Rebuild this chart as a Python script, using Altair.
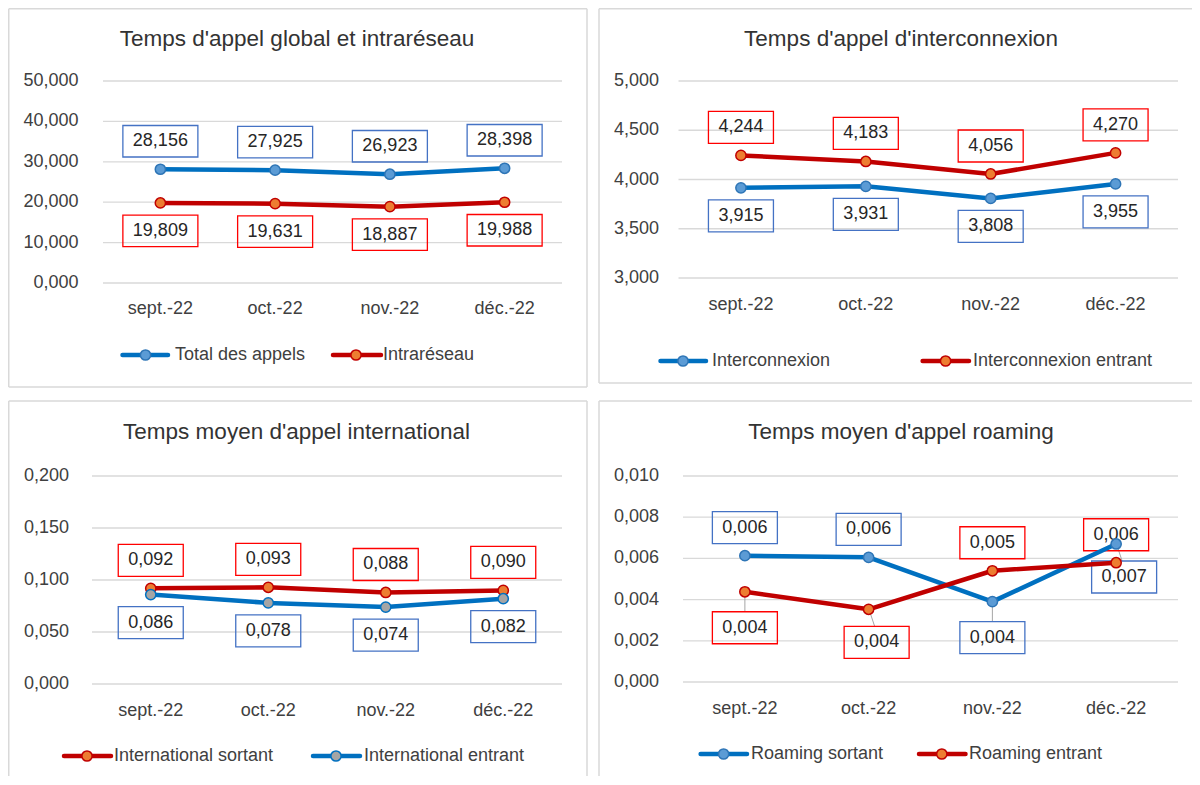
import altair as alt
import pandas as pd

# ---------------- data ----------------
MONTHS = ["sept.-22", "oct.-22", "nov.-22", "déc.-22"]

TITLES = [
    "Temps d'appel global et intraréseau",
    "Temps d'appel d'interconnexion",
    "Temps moyen d'appel international",
    "Temps moyen d'appel roaming",
]

# panel 1
TOTAL_APPELS = [28.156, 27.925, 26.923, 28.398]
INTRARESEAU = [19.809, 19.631, 18.887, 19.988]
TICKS_1 = [0, 10, 20, 30, 40, 50]
# panel 2
INTERCONNEXION = [3.915, 3.931, 3.808, 3.955]
INTERCONNEXION_ENTRANT = [4.244, 4.183, 4.056, 4.270]
TICKS_2 = [3.0, 3.5, 4.0, 4.5, 5.0]
# panel 3
INTL_SORTANT = [0.092, 0.093, 0.088, 0.090]
INTL_ENTRANT = [0.086, 0.078, 0.074, 0.082]
TICKS_3 = [0.0, 0.05, 0.10, 0.15, 0.20]
# panel 4
ROAMING_SORTANT = [0.00613, 0.00605, 0.00390, 0.00670]
ROAMING_ENTRANT = [0.00438, 0.00353, 0.00540, 0.00579]
TICKS_4 = [0.0, 0.002, 0.004, 0.006, 0.008, 0.010]

# ---------------- styles ----------------
FONT = "Liberation Sans"
GRID = "#D9D9D9"
BORDER = "#D9D9D9"
AXIS_C = "#404040"
TITLE_C = "#333333"
LABEL_C = "#262626"
LEADER_C = "#A6A6A6"
FMT = "replace(format(datum.value, '.3f'), '.', ',')"

STYLE = {
    "blue": dict(line="#0070C0", fill="#5B9BD5", mstroke="#2E75B6", box="#4472C4"),
    "red": dict(line="#C00000", fill="#ED7D31", mstroke="#C00000", box="#FF0000"),
    "blue_gray": dict(line="#0070C0", fill="#A5A5A5", mstroke="#0070C0", box="#4472C4"),
}

# label placement (pixel offsets of the label box centre from its point)
PLACEMENTS = {
    "above": dict(dx=0, dy=-28, leader=None),
    "below": dict(dx=0, dy=28, leader=None),
    "below_far": dict(dx=0, dy=36, leader=(0, 5, 0, 20)),
    "below_right": dict(dx=8, dy=33, leader=(2, 5, 6, 17)),
}

SERIES = [
    [dict(name="Total des appels", values=TOTAL_APPELS, style="blue", place=["above"] * 4),
     dict(name="Intraréseau", values=INTRARESEAU, style="red", place=["below"] * 4)],
    [dict(name="Interconnexion", values=INTERCONNEXION, style="blue", place=["below"] * 4),
     dict(name="Interconnexion entrant", values=INTERCONNEXION_ENTRANT, style="red", place=["above"] * 4)],
    [dict(name="International sortant", values=INTL_SORTANT, style="red", place=["above"] * 4),
     dict(name="International entrant", values=INTL_ENTRANT, style="blue_gray", place=["below"] * 4)],
    [dict(name="Roaming sortant", values=ROAMING_SORTANT, style="blue",
          place=["above", "above", "below_far", "below_right"]),
     dict(name="Roaming entrant", values=ROAMING_ENTRANT, style="red",
          place=["below_far", "below_right", "above", "above"])],
]
TICKS = [TICKS_1, TICKS_2, TICKS_3, TICKS_4]

W, H = 1184, 768
PAGE_R, PAGE_B = 8 + W, 8 + H

LAYOUT = [
    dict(plot_x=(103, 562), plot_y=(283, 81), ylab_x=78.5, xlab_y=309, title=(297, 39), leg_y=355,
         leg=[(122.5, 168, 145.5, 175), (333, 381, 356, 383)], box=(75, 31.5),
         border=dict(left=8, right=587, top=5, bottom=387)),
    dict(plot_x=(678.5, 1178), plot_y=(278, 81), ylab_x=659, xlab_y=305, title=(901, 39), leg_y=361,
         leg=[(660.5, 706, 683, 712), (922.6, 969, 945.6, 973)], box=(65, 32),
         border=dict(left=599, right=None, top=5, bottom=383)),
    dict(plot_x=(92, 562), plot_y=(684, 476), ylab_x=69, xlab_y=711, title=(296.6, 432), leg_y=756,
         leg=[(64, 111, 87, 114), (313, 360, 336, 364)], box=(65, 32),
         border=dict(left=8, right=587, top=401, bottom=None)),
    dict(plot_x=(683, 1178), plot_y=(682, 476), ylab_x=659, xlab_y=709, title=(901, 432), leg_y=754,
         leg=[(700.6, 747, 723.6, 751), (919, 965.5, 941.8, 969)], box=(65, 32),
         border=dict(left=599, right=None, top=401, bottom=None)),
]


def c(v):
    """page coordinate -> chart coordinate"""
    return max(0.75, v - 8)


def border_layers(b):
    top = b["top"]
    bottom = b["bottom"] if b["bottom"] is not None else PAGE_B
    left = b["left"]
    right = b["right"] if b["right"] is not None else PAGE_R
    segs = [(left, top, left, bottom), (left, top, right, top)]
    if b["right"] is not None:
        segs.append((right, top, right, bottom))
    if b["bottom"] is not None:
        segs.append((left, bottom, right, bottom))
    out = []
    for x1, y1, x2, y2 in segs:
        out.append(
            alt.Chart(pd.DataFrame({"k": [0]})).mark_rule(color=BORDER, strokeWidth=1.5).encode(
                x=alt.value(c(x1)), x2=alt.value(c(x2)), y=alt.value(c(y1)), y2=alt.value(c(y2))
            )
        )
    return out


def build_panel(title, series, ticks, lay):
    xs = alt.Scale(type="point", domain=MONTHS,
                   range=[c(lay["plot_x"][0]), c(lay["plot_x"][1])], padding=0.5)
    ys = alt.Scale(domain=[ticks[0], ticks[-1]],
                   range=[c(lay["plot_y"][0]), c(lay["plot_y"][1])], zero=False, nice=False)
    X = alt.X("month:N", scale=xs, axis=None)
    Y = alt.Y("value:Q", scale=ys, axis=None)
    layers = []

    tick_df = pd.DataFrame({"value": ticks})
    layers.append(alt.Chart(tick_df).mark_rule(color=GRID, strokeWidth=1.3).encode(
        y=Y, x=alt.value(c(lay["plot_x"][0])), x2=alt.value(c(lay["plot_x"][1]))))
    layers.append(alt.Chart(tick_df).transform_calculate(lab=FMT).mark_text(
        align="right", baseline="middle", fontSize=18, font=FONT, color=AXIS_C).encode(
        y=Y, x=alt.value(c(lay["ylab_x"])), text="lab:N"))
    layers.append(alt.Chart(pd.DataFrame({"month": MONTHS})).mark_text(
        align="center", baseline="middle", fontSize=18, font=FONT, color=AXIS_C).encode(
        x=X, y=alt.value(c(lay["xlab_y"])), text="month:N"))

    bw, bh = lay["box"]
    a = bh / bw
    box_path = f"M-1,-{a:.4f}H1V{a:.4f}H-1Z"

    # data labels (boxes + text + leader lines)
    for s in series:
        st = STYLE[s["style"]]
        df = pd.DataFrame({"month": MONTHS, "value": s["values"], "place": s["place"]})
        base = alt.Chart(df)
        for place in sorted(set(s["place"])):
            P = PLACEMENTS[place]
            sub = base.transform_filter(alt.datum.place == place)
            if P["leader"] is not None:
                lx1, ly1, lx2, ly2 = P["leader"]
                layers.append(sub.mark_rule(color=LEADER_C, strokeWidth=1,
                                            xOffset=lx1, yOffset=ly1, x2Offset=lx2, y2Offset=ly2).encode(
                    x=X, x2="month:N", y=Y, y2="value:Q"))
            layers.append(sub.mark_point(shape=box_path, size=bw * bw, filled=False, fill="transparent",
                                         stroke=st["box"], strokeWidth=1.3, opacity=1,
                                         xOffset=P["dx"], yOffset=P["dy"]).encode(x=X, y=Y))
            layers.append(sub.transform_calculate(lab=FMT).mark_text(
                align="center", baseline="middle", fontSize=18, font=FONT, color=LABEL_C,
                xOffset=P["dx"], yOffset=P["dy"]).encode(x=X, y=Y, text="lab:N"))

    # lines then markers
    for s in series:
        st = STYLE[s["style"]]
        df = pd.DataFrame({"month": MONTHS, "value": s["values"]})
        layers.append(alt.Chart(df).mark_line(color=st["line"], strokeWidth=4.5,
                                              strokeJoin="round", strokeCap="round").encode(x=X, y=Y))
        layers.append(alt.Chart(df).mark_point(shape="circle", filled=True, fill=st["fill"],
                                               stroke=st["mstroke"], strokeWidth=1.5, size=105,
                                               opacity=1).encode(x=X, y=Y))

    # title
    layers.append(alt.Chart(pd.DataFrame({"t": [title]})).mark_text(
        align="center", baseline="middle", fontSize=22.5, font=FONT, color=TITLE_C).encode(
        x=alt.value(c(lay["title"][0])), y=alt.value(c(lay["title"][1])), text="t:N"))

    # legend
    for s, (l0, l1, cx, tx) in zip(series, lay["leg"]):
        st = STYLE[s["style"]]
        ldf = pd.DataFrame({"name": [s["name"]]})
        ly = c(lay["leg_y"])
        layers.append(alt.Chart(ldf).mark_rule(color=st["line"], strokeWidth=4.5, strokeCap="round").encode(
            x=alt.value(c(l0)), x2=alt.value(c(l1)), y=alt.value(ly)))
        layers.append(alt.Chart(ldf).mark_point(shape="circle", filled=True, fill=st["fill"],
                                                stroke=st["mstroke"], strokeWidth=1.5, size=105,
                                                opacity=1).encode(x=alt.value(c(cx)), y=alt.value(ly)))
        layers.append(alt.Chart(ldf).mark_text(align="left", baseline="middle", fontSize=18,
                                               font=FONT, color=AXIS_C).encode(
            x=alt.value(c(tx)), y=alt.value(ly), text="name:N"))

    layers.extend(border_layers(lay["border"]))
    return alt.layer(*layers)


panels = [build_panel(TITLES[i], SERIES[i], TICKS[i], LAYOUT[i]) for i in range(4)]

chart = (
    alt.layer(*panels)
    .resolve_scale(x="independent", y="independent")
    .properties(width=W, height=H, padding=0, autosize=alt.AutoSizeParams(type="none"))
    .configure_view(stroke=None)
)

chart.save("out.html", embed_options={"renderer": "svg", "actions": False})
